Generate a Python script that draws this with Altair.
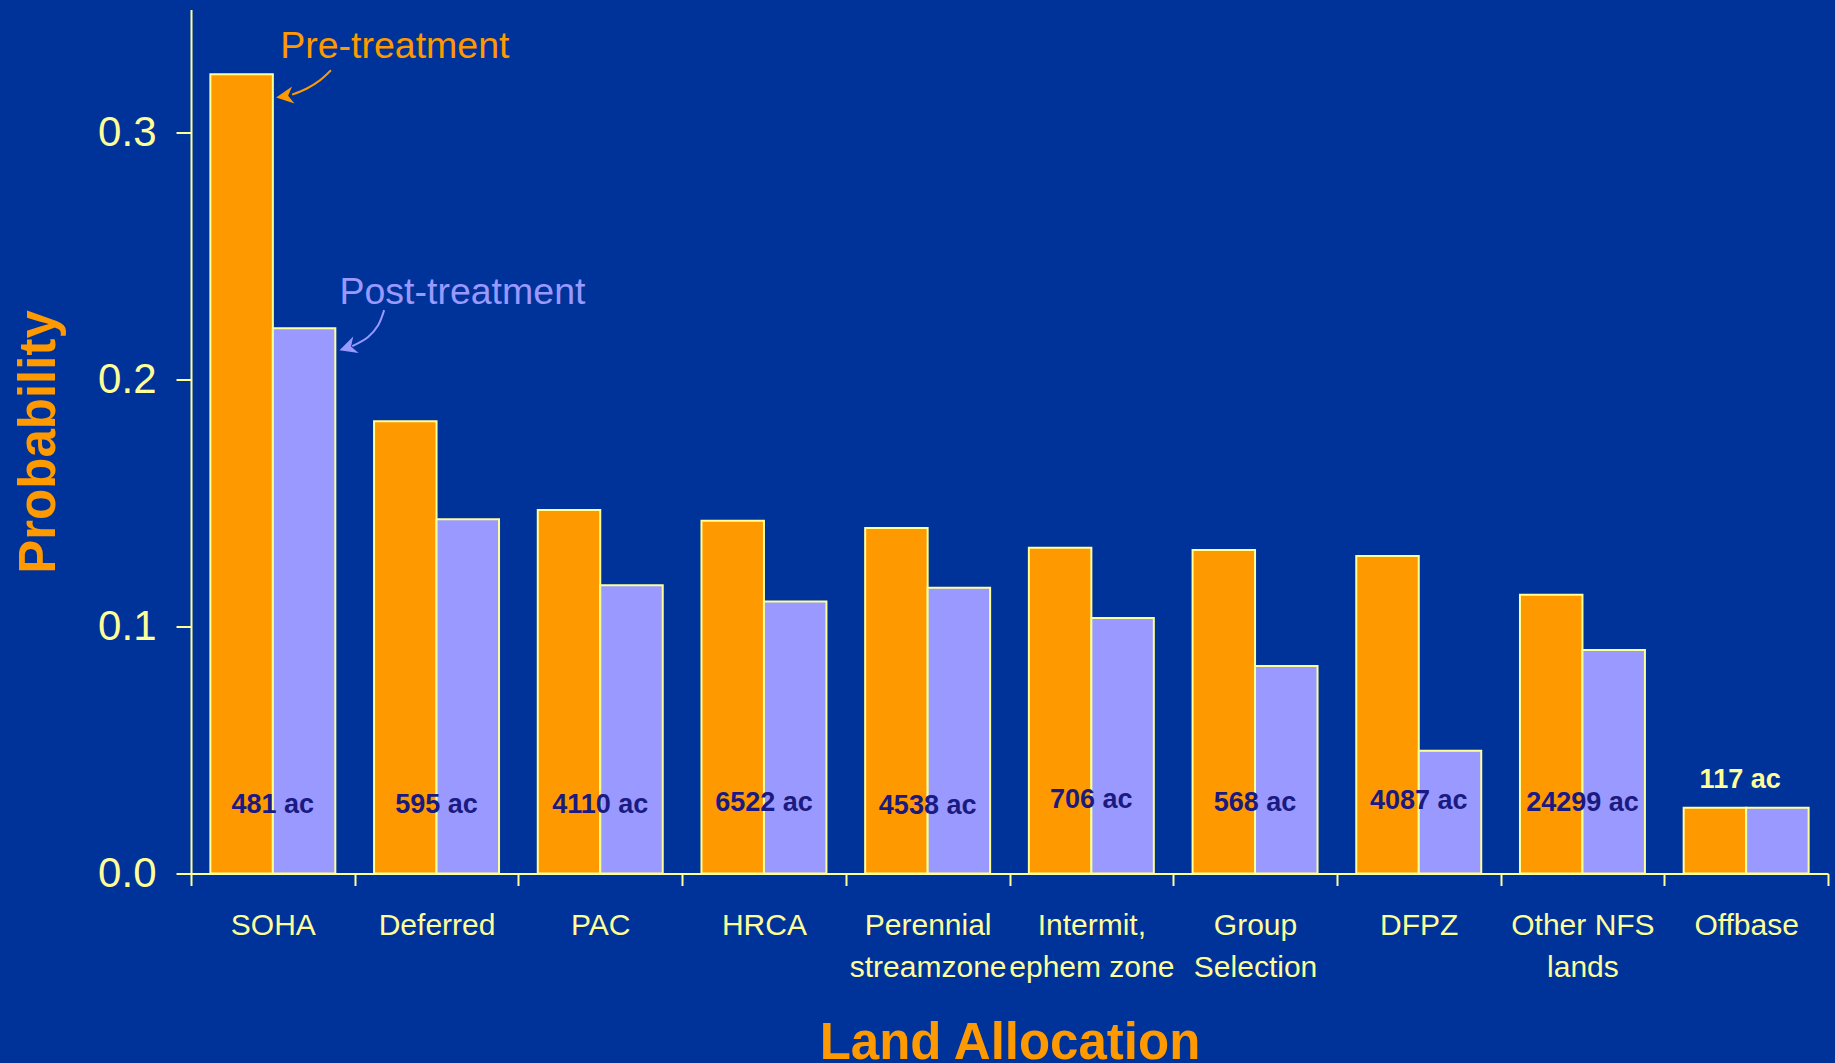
import altair as alt
import pandas as pd

# ---------------- data ----------------
categories = ["SOHA", "Deferred", "PAC", "HRCA", "Perennial|streamzone",
              "Intermit,|ephem zone", "Group|Selection", "DFPZ",
              "Other NFS|lands", "Offbase"]
series = ["Pre-treatment", "Post-treatment"]
pre_treatment = [0.3238, 0.1832, 0.1473, 0.1429, 0.1400, 0.1320, 0.1310, 0.1286, 0.1129, 0.0266]
post_treatment = [0.2209, 0.1435, 0.1168, 0.1102, 0.1158, 0.1035, 0.0841, 0.0497, 0.0905, 0.0266]
acreage = ["481 ac", "595 ac", "4110 ac", "6522 ac", "4538 ac", "706 ac",
           "568 ac", "4087 ac", "24299 ac", "117 ac"]
acreage_y = [0.0246, 0.0246, 0.0246, 0.0254, 0.0241, 0.0264, 0.0254, 0.0262, 0.0254, 0.0345]
acreage_inside = [True] * 9 + [False]
y_ticks = [0.0, 0.1, 0.2, 0.3]

# annotation geometry (x in category units, y in probability)
ann_u = [0.545, 0.907]
ann_v = [0.3302, 0.2309]
arrow_pre_u = [0.855, 0.789, 0.708, 0.618]
arrow_pre_v = [0.3254, 0.3214, 0.3180, 0.3155]
arrow_post_u = [1.180, 1.143, 1.082, 0.985]
arrow_post_v = [0.2282, 0.2221, 0.2173, 0.2136]
head_u = [0.520, 0.907]
head_v = [0.3144, 0.2120]
head_angle = [352, 342]

# ---------------- tables ----------------
bars_df = pd.DataFrame(
    [{"category": c, "series": s, "value": v}
     for c, p, q in zip(categories, pre_treatment, post_treatment)
     for s, v in zip(series, [p, q])]
)
labels_df = pd.DataFrame({"category": categories, "text": acreage,
                          "y": acreage_y, "inside": acreage_inside})
ann_df = pd.DataFrame({"series": series, "u": ann_u, "v": ann_v})
arrows_df = pd.DataFrame(
    [{"series": "Pre-treatment", "i": i, "u": u, "v": v}
     for i, (u, v) in enumerate(zip(arrow_pre_u, arrow_pre_v))]
    + [{"series": "Post-treatment", "i": i, "u": u, "v": v}
       for i, (u, v) in enumerate(zip(arrow_post_u, arrow_post_v))]
)
heads_df = pd.DataFrame({"series": series, "u": head_u, "v": head_v, "angle": head_angle})

# ---------------- styling ----------------
W, H = 1637, 864
BG = "#003399"
AXIS = "#FFFF99"
ORANGE = "#FF9900"
PURPLE = "#9999FF"
SANS = "'Liberation Sans', Arial, sans-serif"

color_scale = alt.Scale(domain=series, range=[ORANGE, PURPLE])
y_scale = alt.Scale(domain=[0, 0.35], nice=False, zero=True)
u_scale = alt.Scale(domain=[0, len(categories)], nice=False, zero=False)

x_axis = alt.Axis(
    title="Land Allocation", titleFont=SANS, titleFontSize=51, titleFontWeight="bold",
    titleColor=ORANGE, titleBaseline="alphabetic", titleY=185, titleX=W / 2,
    labelExpr="split(datum.label, '|')", labelFont=SANS, labelFontSize=30,
    labelColor=AXIS, labelPadding=25, labelLineHeight=42, labelAngle=0,
    labelLimit=0, labelOverlap=False,
    tickBand="extent", tickSize=12, tickColor=AXIS, tickWidth=2,
    domainColor=AXIS, domainWidth=2, grid=False,
)
y_axis = alt.Axis(
    title="Probability", titleFont=SANS, titleFontSize=51, titleFontWeight="bold",
    titleColor=ORANGE, titleAngle=270, titleBaseline="alphabetic", titleAlign="center",
    titleX=-137, titleY=H / 2,
    values=y_ticks, format=".1f", labelFont=SANS, labelFontSize=42, labelColor=AXIS,
    labelPadding=20, tickSize=15, tickColor=AXIS, tickWidth=2,
    domainColor=AXIS, domainWidth=2, grid=False,
)

x_band = alt.X("category:N", sort=categories,
               scale=alt.Scale(paddingInner=0, paddingOuter=0), axis=x_axis)

bars = alt.Chart(bars_df).mark_bar(stroke=AXIS, strokeWidth=2).encode(
    x=x_band,
    xOffset=alt.XOffset("series:N", sort=series,
                        scale=alt.Scale(paddingInner=0, paddingOuter=0.31)),
    y=alt.Y("value:Q", scale=y_scale, axis=y_axis),
    color=alt.Color("series:N", scale=color_scale, legend=None),
)

labels_in = alt.Chart(labels_df).transform_filter("datum.inside").mark_text(
    font=SANS, fontSize=27, fontWeight="bold", color="#1a1a80",
    baseline="alphabetic", align="center",
).encode(x=x_band, y=alt.Y("y:Q", scale=y_scale), text="text:N")

labels_out = alt.Chart(labels_df).transform_filter("!datum.inside").mark_text(
    font=SANS, fontSize=27, fontWeight="bold", color=AXIS,
    baseline="alphabetic", align="center", dx=-6,
).encode(x=x_band, y=alt.Y("y:Q", scale=y_scale), text="text:N")

group_a = alt.layer(bars, labels_in, labels_out)

ann_text = alt.Chart(ann_df).mark_text(
    font=SANS, fontSize=37.5, align="left", baseline="alphabetic",
).encode(
    x=alt.X("u:Q", scale=u_scale, axis=None),
    y=alt.Y("v:Q", scale=y_scale),
    text="series:N",
    color=alt.Color("series:N", scale=color_scale, legend=None),
)

arrow_lines = alt.Chart(arrows_df).mark_line(
    strokeWidth=2, interpolate="catmull-rom",
).encode(
    x=alt.X("u:Q", scale=u_scale, axis=None),
    y=alt.Y("v:Q", scale=y_scale),
    order="i:Q",
    detail="series:N",
    color=alt.Color("series:N", scale=color_scale, legend=None),
)

arrow_heads = alt.Chart(heads_df).mark_point(
    shape="M0,0 L2,-1 L1.4,0 L2,1 Z", filled=True, size=300, opacity=1, strokeWidth=0,
).encode(
    x=alt.X("u:Q", scale=u_scale, axis=None),
    y=alt.Y("v:Q", scale=y_scale),
    angle=alt.Angle("angle:Q", scale=None),
    color=alt.Color("series:N", scale=color_scale, legend=None),
)

chart = alt.layer(group_a, ann_text, arrow_lines, arrow_heads).resolve_scale(
    x="independent"
).properties(
    width=W, height=H,
    autosize=alt.AutoSizeParams(type="none"),
    padding={"left": 191, "top": 9.5, "right": 7, "bottom": 189.5},
    background=BG,
).configure_view(stroke=None)

chart.save("out.html", embed_options={"renderer": "svg", "actions": False})
